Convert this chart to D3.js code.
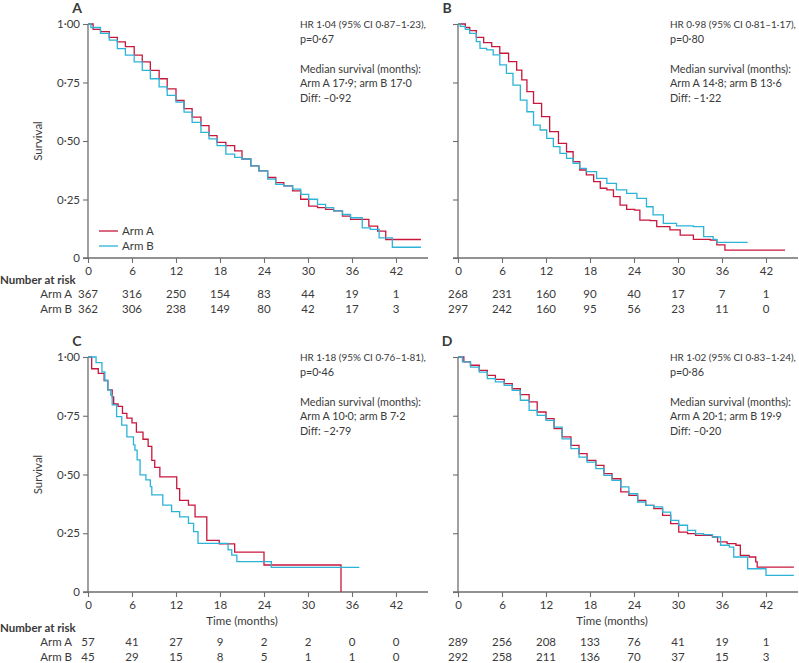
<!DOCTYPE html>
<html><head><meta charset="utf-8">
<script src="https://cdn.jsdelivr.net/npm/d3@7"></script>
<style>
body{margin:0;background:#fff;}
svg text{font-family:Lato,"Open Sans",sans-serif;fill:#3a3a3a;}
</style></head>
<body><svg id="c" width="799" height="663"></svg>
<script>
// ---- data ----
const xTicks = [0, 6, 12, 18, 24, 30, 36, 42];
const yTicks = [0, 0.25, 0.5, 0.75, 1];
const yTickLabels = ["0", "0·25", "0·50", "0·75", "1·00"];
const armNames = ["Arm A", "Arm B"];
const panelLetters = ["A", "B", "C", "D"];

// [month, survival] step points
const survA_armA = [[0,1],[0.7,0.977],[1.7,0.967],[2.9,0.943],[4,0.924],[5.1,0.903],[6.3,0.867],[7.4,0.838],[8.5,0.802],[9.7,0.766],[10.8,0.723],[12,0.673],[13.1,0.638],[14.2,0.602],[15.4,0.566],[16.5,0.523],[17.6,0.494],[18.8,0.48],[20,0.458],[21,0.423],[22.2,0.394],[23.3,0.372],[24.5,0.344],[25.6,0.322],[26.7,0.308],[27.9,0.287],[29,0.251],[30.1,0.222],[31.3,0.215],[32.4,0.208],[33.5,0.201],[34.7,0.179],[35.8,0.165],[38.3,0.136],[39.5,0.115],[40.6,0.079],[45.4,0.079]];
const survA_armB = [[0,1],[0.4,0.985],[1.7,0.96],[2.9,0.931],[4,0.895],[5.1,0.867],[6.3,0.838],[7.4,0.802],[8.5,0.766],[9.7,0.731],[10.8,0.695],[12,0.666],[13.1,0.623],[14.2,0.58],[15.4,0.537],[16.5,0.509],[17.6,0.48],[18.8,0.444],[20,0.43],[21,0.423],[22.2,0.394],[23.3,0.372],[24.5,0.337],[25.6,0.315],[26.7,0.308],[27.9,0.294],[29,0.272],[30.1,0.251],[31.3,0.229],[32.4,0.215],[33.5,0.201],[34.7,0.186],[35.8,0.172],[37.4,0.129],[38.5,0.122],[39.7,0.086],[41.5,0.046],[45.4,0.046]];

const survB_armA = [[0,1],[1,0.985],[1.6,0.972],[2.5,0.943],[3.5,0.92],[4.6,0.903],[5.7,0.875],[6.9,0.839],[8,0.803],[8.7,0.761],[9.4,0.711],[10.3,0.661],[11.4,0.604],[12.5,0.54],[13.7,0.49],[14.8,0.454],[15.7,0.412],[16.6,0.376],[17.5,0.355],[18.5,0.326],[19.4,0.298],[20.3,0.291],[21.2,0.262],[22.1,0.226],[23,0.208],[24.1,0.205],[24.8,0.162],[26.2,0.16],[27.1,0.134],[28.9,0.12],[30.3,0.098],[32.1,0.08],[34.4,0.077],[35.3,0.056],[36.4,0.034],[44.6,0.034]];
const survB_armB = [[0,1],[0.3,0.99],[1,0.977],[1.6,0.96],[2.5,0.925],[3,0.896],[3.9,0.889],[4.8,0.868],[5.7,0.825],[6.6,0.789],[7.5,0.739],[8.5,0.675],[9.4,0.625],[10.3,0.568],[11.2,0.547],[12.1,0.511],[13,0.476],[13.9,0.447],[14.8,0.426],[15.7,0.405],[16.6,0.383],[17.5,0.369],[18.9,0.34],[20.3,0.319],[21.6,0.291],[23,0.276],[24.4,0.255],[25.7,0.219],[26.6,0.184],[28,0.148],[29.8,0.137],[32.1,0.134],[33.5,0.091],[34.8,0.08],[35.3,0.067],[39.5,0.067]];

const survC_armA = [[0,1],[0.5,0.95],[1.4,0.93],[2.2,0.9],[2.7,0.86],[3.3,0.83],[3.5,0.8],[4.1,0.79],[4.7,0.76],[5.3,0.74],[6,0.72],[6.6,0.68],[7.5,0.65],[8.2,0.62],[8.7,0.56],[9.1,0.53],[9.8,0.49],[12.1,0.44],[12.5,0.39],[13.7,0.37],[14.6,0.32],[16.2,0.22],[17.9,0.205],[20,0.17],[24,0.115],[34.5,0]];
const survC_armB = [[0,1],[1.1,0.976],[1.9,0.937],[2.3,0.9],[2.7,0.86],[3.1,0.838],[3.3,0.796],[3.9,0.746],[4.6,0.71],[5.3,0.66],[6.2,0.626],[6.4,0.604],[6.7,0.562],[7.1,0.498],[7.9,0.477],[8.5,0.448],[8.7,0.413],[10.2,0.37],[11.4,0.342],[12.5,0.32],[13.7,0.292],[14.4,0.257],[15,0.207],[19.1,0.179],[19.6,0.157],[20.3,0.129],[25,0.105],[37,0.105]];

const survD_armA = [[0,1],[0.8,0.979],[1.7,0.965],[2.9,0.943],[4,0.922],[5.1,0.905],[6.3,0.887],[7.4,0.865],[8.5,0.84],[9.7,0.809],[10.8,0.766],[12,0.738],[13.1,0.695],[14.2,0.66],[15.4,0.624],[16.5,0.589],[17.6,0.56],[18.8,0.539],[19.9,0.504],[21,0.482],[22.2,0.426],[23.3,0.411],[24.5,0.39],[25.6,0.369],[26.7,0.355],[27.9,0.326],[29,0.291],[30.1,0.255],[31.3,0.248],[32.4,0.241],[34.7,0.234],[35.4,0.213],[36.7,0.206],[37.9,0.199],[38.5,0.156],[39.7,0.149],[40.6,0.128],[40.8,0.106],[45.8,0.106]];
const survD_armB = [[0,1],[0.6,0.979],[1.7,0.957],[2.9,0.936],[4,0.908],[5.1,0.894],[6.3,0.879],[7.4,0.858],[8.5,0.816],[9.7,0.773],[10.8,0.752],[12,0.73],[13.1,0.702],[14.2,0.652],[15.4,0.61],[16.5,0.574],[17.6,0.553],[18.8,0.525],[19.9,0.496],[21,0.475],[22.2,0.447],[23.3,0.418],[24.5,0.383],[25.6,0.369],[26.7,0.362],[27.9,0.34],[29,0.305],[30.1,0.284],[31.3,0.262],[32.4,0.248],[33.5,0.244],[34.7,0.234],[35.8,0.199],[37,0.191],[37.6,0.149],[39.5,0.099],[42,0.071],[45.8,0.071]];

const riskA_armA = [367,316,250,154,83,44,19,1];
const riskA_armB = [362,306,238,149,80,42,17,3];
const riskB_armA = [268,231,160,90,40,17,7,1];
const riskB_armB = [297,242,160,95,56,23,11,0];
const riskC_armA = [57,41,27,9,2,2,0,0];
const riskC_armB = [45,29,15,8,5,1,1,0];
const riskD_armA = [289,256,208,133,76,41,19,1];
const riskD_armB = [292,258,211,136,70,37,15,3];

const notesA = ["HR 1·04 (95% CI 0·87–1·23),", "p=0·67", "", "Median survival (months):", "Arm A 17·9; arm B 17·0", "Diff: –0·92"];
const notesB = ["HR 0·98 (95% CI 0·81–1·17),", "p=0·80", "", "Median survival (months):", "Arm A 14·8; arm B 13·6", "Diff: –1·22"];
const notesC = ["HR 1·18 (95% CI 0·76–1·81),", "p=0·46", "", "Median survival (months):", "Arm A 10·0; arm B 7·2", "Diff: –2·79"];
const notesD = ["HR 1·02 (95% CI 0·83–1·24),", "p=0·86", "", "Median survival (months):", "Arm A 20·1; arm B 19·9", "Diff: –0·20"];

// ---- drawing ----
const colors = ["#c8173d", "#2cb3d8"];
const axisColor = "#6e6e6e";
const svg = d3.select("#c");

const panels = [
  {left:88, top:24, h:234, curves:[survA_armA, survA_armB], risk:[riskA_armA, riskA_armB], notes:notesA, yLabels:true, legend:true, timeLabel:false, riskLabels:true},
  {left:458, top:24, h:234, curves:[survB_armA, survB_armB], risk:[riskB_armA, riskB_armB], notes:notesB, yLabels:false, legend:false, timeLabel:false, riskLabels:false},
  {left:88, top:357, h:235, curves:[survC_armA, survC_armB], risk:[riskC_armA, riskC_armB], notes:notesC, yLabels:true, legend:false, timeLabel:true, riskLabels:true},
  {left:458, top:357, h:235, curves:[survD_armA, survD_armB], risk:[riskD_armA, riskD_armB], notes:notesD, yLabels:false, legend:false, timeLabel:true, riskLabels:false}
];

const FS = "11.5px";
const FS_NOTE = 10.8;

panels.forEach((p, i) => {
  const x = d3.scaleLinear().domain([0, 42]).range([p.left, p.left + 308]);
  const y = d3.scaleLinear().domain([0, 1]).range([p.top + p.h, p.top]);
  const g = svg.append("g");
  const base = p.top + p.h;

  g.append("text").attr("x", p.left - 11).attr("y", p.top - 16).attr("dy", "0.35em")
    .attr("text-anchor", "middle").style("font-weight", "700").style("font-size", "14px").text(panelLetters[i]);

  const xa = g.append("g").attr("transform", `translate(0,${base})`)
    .call(d3.axisBottom(x).tickValues(xTicks).tickSize(5).tickFormat(d3.format("d")));
  xa.select(".domain").remove();
  xa.append("line").attr("x1", p.left - 5).attr("x2", p.left + 340).attr("stroke", axisColor).attr("stroke-width", 1.3);
  xa.selectAll(".tick line").attr("stroke", axisColor).attr("stroke-width", 1.1);
  xa.selectAll(".tick text").attr("dy", "0.35em").attr("y", 13).style("font-size", FS).style("fill", "#3a3a3a")
    .style("font-family", "Lato");

  const ya = g.append("g").attr("transform", `translate(${p.left},0)`)
    .call(d3.axisLeft(y).tickValues(yTicks).tickSize(5)
      .tickFormat((d, j) => p.yLabels ? yTickLabels[j] : ""));
  ya.select(".domain").attr("stroke", axisColor).attr("stroke-width", 1.3).attr("d", `M0,${y(1)}V${base}`);
  ya.selectAll(".tick line").attr("stroke", axisColor).attr("stroke-width", 1.1);
  ya.selectAll(".tick text").attr("x", -8).style("font-size", FS).style("fill", "#3a3a3a").style("font-family", "Lato");

  if (p.yLabels) {
    g.append("text").attr("transform", `translate(38,${p.top + p.h / 2}) rotate(-90)`)
      .attr("text-anchor", "middle").attr("dy", "0.35em").style("font-size", FS).text("Survival");
  }

  const line = d3.line().x(d => x(d[0])).y(d => y(d[1])).curve(d3.curveStepAfter);
  p.curves.forEach((c, k) => {
    g.append("path").datum(c).attr("d", line).attr("fill", "none")
      .attr("stroke", colors[k]).attr("stroke-width", 1.3);
  });

  if (p.legend) {
    armNames.forEach((n, k) => {
      const ly = base - 27 + k * 15;
      g.append("line").attr("x1", p.left + 11).attr("x2", p.left + 30).attr("y1", ly).attr("y2", ly)
        .attr("stroke", colors[k]).attr("stroke-width", 1.3);
      g.append("text").attr("x", p.left + 34).attr("y", ly).attr("dy", "0.35em").style("font-size", FS).text(n);
    });
  }

  p.notes.forEach((t, k) => {
    if (!t) return;
    const tx = g.append("text").attr("x", p.left + 212).attr("y", p.top + 1 + k * 14.6).attr("dy", "0.35em")
      .style("font-size", FS_NOTE + "px").text(t);
    const w = tx.node().getComputedTextLength();
    if (w > 126) tx.style("font-size", (FS_NOTE * 126 / w).toFixed(2) + "px");
  });

  if (p.timeLabel) {
    g.append("text").attr("x", x(21)).attr("y", base + 29).attr("dy", "0.35em").attr("text-anchor", "middle")
      .style("font-size", FS).text("Time (months)");
  }

  const riskTop = p.timeLabel ? base + 36 : base + 22;
  if (p.riskLabels) {
    g.append("text").attr("x", 0).attr("y", riskTop).attr("dy", "0.35em").style("font-weight", "700")
      .style("font-size", FS).text("Number at risk");
  }
  p.risk.forEach((r, k) => {
    const ry = riskTop + 13.5 + k * 15.5;
    if (p.riskLabels) {
      g.append("text").attr("x", 72).attr("y", ry).attr("dy", "0.35em").attr("text-anchor", "end")
        .style("font-size", FS).text(armNames[k]);
    }
    r.forEach((v, j) => {
      g.append("text").attr("x", x(xTicks[j])).attr("y", ry).attr("dy", "0.35em").attr("text-anchor", "middle")
        .style("font-size", FS).text(v);
    });
  });
});
</script></body></html>
